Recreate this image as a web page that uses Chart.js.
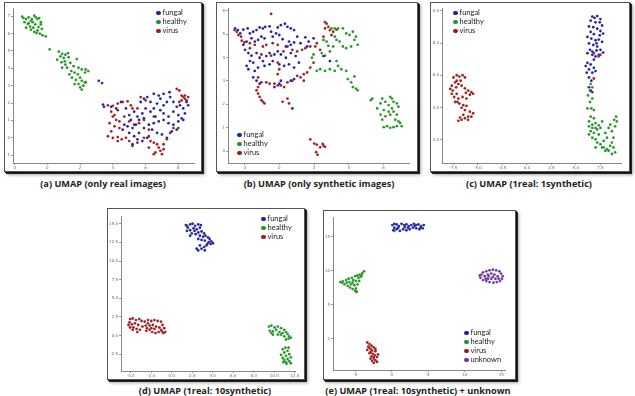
<!DOCTYPE html>
<html><head><meta charset="utf-8">
<script src="https://cdn.jsdelivr.net/npm/chart.js@4/dist/chart.umd.min.js"></script>
<style>
html,body{margin:0;padding:0;background:#fff;}
body{width:635px;height:396px;position:relative;overflow:hidden;font-family:Lato,"Open Sans",sans-serif;}
.frame{position:absolute;box-sizing:border-box;border:1px solid #555;background:#fff;box-shadow:1px 1px 0 #111,2px 2px 0 #222,3px 3px 3px rgba(0,0,0,.35);}
canvas{position:absolute;}
.cap{position:absolute;font-family:"Open Sans",sans-serif;font-weight:bold;font-size:9.2px;color:#222;white-space:nowrap;transform:translateX(-50%);}
.leg{position:absolute;font-family:Lato,sans-serif;font-size:7.5px;color:#222;white-space:nowrap;line-height:9px;}
.leg span.d{display:inline-block;width:4.5px;height:4.5px;border-radius:50%;margin-right:2px;vertical-align:0px;}
</style></head><body>
<div class="frame" style="left:4px;top:2px;width:198px;height:170px"></div>
<div class="frame" style="left:216px;top:2px;width:202px;height:170px"></div>
<div class="frame" style="left:430px;top:2px;width:200px;height:170px"></div>
<div class="frame" style="left:107px;top:208px;width:198px;height:172px"></div>
<div class="frame" style="left:323px;top:210px;width:193px;height:170px"></div>
<canvas id="ca" width="194" height="166" style="left:5px;top:4px"></canvas>
<canvas id="cb" width="196" height="166" style="left:218px;top:4px"></canvas>
<canvas id="cc" width="194" height="166" style="left:432px;top:4px"></canvas>
<canvas id="cd" width="191" height="166" style="left:109px;top:212px"></canvas>
<canvas id="ce" width="185" height="164" style="left:325px;top:213px"></canvas>
<div class="cap" style="left:103px;top:177px">(a) UMAP (only real images)</div>
<div class="cap" style="left:319px;top:177px">(b) UMAP (only synthetic images)</div>
<div class="cap" style="left:529px;top:177px">(c) UMAP (1real: 1synthetic)</div>
<div class="cap" style="left:205px;top:384px">(d) UMAP (1real: 10synthetic)</div>
<div class="cap" style="left:418px;top:384px">(e) UMAP (1real: 10synthetic) + unknown</div>
<div id="legends"></div>
<script>
// ---------- categories / colours ----------
const CATEGORIES = ['fungal','healthy','virus','unknown'];
const COLORS = {fungal:'rgb(32,32,160)', healthy:'rgb(34,150,34)', virus:'rgb(158,28,28)', unknown:'rgb(112,52,160)'};

// ---------- tick labels ----------
const A_X_TICKS=[-2,0,2,4,6,8], A_Y_TICKS=[-1,0,1,2,3,4,5,6,7];
const B_X_TICKS=[-2,0,2,4,6], B_Y_TICKS=[0,1,2,3,4,5,6];
const C_X_TICKS=[-7.5,-5,-2.5,0,2.5,5,7.5], C_Y_TICKS=[2,4,6,8,10];
const D_X_TICKS=[-4,-2,0,2,4,6,8,10,12], D_Y_TICKS=[-2.5,0,2.5,5,7.5,10,12.5,15];
const E_X_TICKS=[-5,0,5,10,15], E_Y_TICKS=[0,5,10,15];

// ---------- (a) only real images ----------
const A_HEALTHY=[[-1.54,6.97],[-1.46,6.89],[-1.3,6.83],[-1.14,6.93],[-1.0,6.74],[-0.8,7.02],[-0.7,6.93],[-0.6,6.83],[-0.5,6.89],[-0.9,6.65],[-1.2,6.55],[-1.06,6.4],[-0.74,6.52],[-0.54,6.37],[-0.4,6.65],[-1.3,6.33],[-1.0,6.22],[-0.8,6.09],[-0.66,6.03],[-0.46,5.99],[-0.3,5.9],[-1.14,6.59],[-0.86,6.33],[-0.6,6.18],[-0.34,6.27],[-1.4,6.65],[-0.94,6.83],[-0.1,5.84],[0.14,5.09],[-0.4,6.52],
[0.7,4.96],[0.9,4.83],[1.1,4.78],[1.26,4.87],[0.8,4.68],[1.0,4.59],[1.3,4.64],[0.6,4.49],[0.86,4.34],[1.1,4.21],[1.4,4.31],[1.6,4.12],[1.8,4.53],[1.9,4.03],[2.1,3.93],[2.34,3.93],[2.5,3.84],[1.2,4.03],[1.46,3.84],[1.66,3.75],[1.86,3.65],[2.0,3.46],[1.74,3.33],[1.5,3.46],[2.1,3.28],[1.9,3.09],[2.0,2.9],[2.1,2.77],[2.2,3.0],[2.34,3.18],[2.3,3.75],[0.9,4.03],[1.34,3.65],[1.66,3.09],[1.06,4.4]];
const A_FUNGAL=[[3.14,3.28],[3.34,3.15],[3.4,1.91],[3.46,1.78],[3.9,1.78],[4.2,1.69],[4.5,2.06],[4.8,1.69],[5.0,1.31],[5.1,1.03],[5.3,1.5],[5.5,1.22],[5.7,2.06],[5.9,2.25],[6.1,2.34],[6.3,2.06],[6.5,1.69],[6.7,1.97],[6.9,2.25],[7.1,1.87],[7.3,2.06],[7.5,2.34],[7.7,2.06],[7.9,1.78],[8.1,1.87],[8.3,1.69],[8.4,1.4],[8.2,1.12],[8.0,1.31],[7.7,1.5],[7.4,1.22],[7.1,1.4],[6.9,1.59],[6.6,1.22],[6.3,1.5],[6.0,1.69],[5.8,1.4],[5.6,1.03],[5.4,0.75],[5.2,0.56],[4.9,0.66],[4.7,0.75],[4.6,0.47],[5.0,0.28],[5.3,0.09],[5.6,0.28],[5.9,0.56],[6.2,0.75],[6.5,0.84],[6.8,0.94],[7.1,1.03],[7.4,0.84],[7.7,0.75],[8.0,0.94],[8.3,1.03],[8.5,2.06],[8.6,1.87],[6.4,0.47],[6.7,0.28],[7.0,0.19],[7.3,0.0],[6.1,0.0],[5.8,-0.19],[5.5,-0.09],[5.2,-0.37],[6.8,2.43],[7.1,2.53],[7.46,2.62],[6.5,2.53],[7.9,0.47],[7.6,0.37],[5.9,1.12]];
const A_VIRUS=[[2.3,3.2],[3.7,1.87],[4.0,1.84],[4.3,1.97],[4.6,2.06],[4.9,2.1],[5.1,1.87],[3.9,1.5],[4.1,1.31],[4.3,1.59],[4.0,1.22],[4.2,1.03],[3.8,0.84],[4.1,0.66],[4.4,0.94],[3.9,0.37],[3.7,0.09],[4.0,0.0],[4.3,0.04],[4.54,-0.09],[4.8,0.0],[5.0,-0.19],[5.2,-0.47],[5.5,-0.28],[5.9,0.0],[6.2,0.09],[6.3,-0.19],[6.5,-0.28],[6.7,-0.37],[6.8,-0.56],[6.9,-0.75],[6.6,-0.84],[6.5,-0.94],[7.0,-0.94],[7.1,-0.37],[7.1,-0.66],[7.3,-0.09],[4.4,0.56],[5.3,0.75],[5.6,0.84],[5.9,1.03],[5.7,2.34],[6.0,2.15],[5.5,1.69],[4.7,1.22],[5.0,0.94],[5.2,1.69],[6.5,1.22],[6.2,0.47],[7.9,2.81],[8.06,2.72],[8.2,2.43],[8.3,2.34],[8.4,2.25],[8.5,2.15],[8.2,2.15],[8.06,2.06],[8.4,2.43],[8.6,2.34],[8.0,0.56],[7.5,0.28],[7.7,0.56],[4.3,-0.19],[6.2,-0.56]];

// ---------- (b) only synthetic images ----------
const B_FUNGAL=[[-2.54,5.24],[-2.38,5.17],[-2.25,5.03],[-2.07,5.19],[-1.82,5.24],[-1.69,5.03],[-1.5,5.1],[-1.31,5.17],[-1.13,5.28],[-0.94,5.24],[-0.81,5.31],[-0.56,5.33],[-0.47,5.1],[-0.09,5.28],[0.09,5.38],[0.32,5.44],[0.47,5.31],[0.66,5.24],[0.85,5.17],[1.03,4.89],[1.5,4.86],[1.69,4.68],[1.6,4.47],[1.22,4.61],[0.85,4.64],[0.56,4.68],[0.66,4.54],[0.38,4.47],[0.19,4.78],[0,4.96],[-0.19,5.03],[-0.38,4.89],[-0.85,4.82],[-1.03,4.89],[-1.22,4.75],[-1.41,4.68],[-1.6,4.82],[-1.88,4.68],[-2.07,4.54],[-1.97,4.33],[-1.78,4.19],[-1.6,4.08],[-1.31,4.19],[-1.13,3.99],[-0.94,3.85],[-0.75,4.06],[-0.56,4.19],[-0.28,4.13],[-0.09,4.26],[0.09,4.13],[0.38,3.99],[0.66,4.19],[0.94,4.06],[1.13,3.78],[0.85,3.57],[0.56,3.71],[0.28,3.64],[0,3.71],[-0.38,3.85],[-0.56,3.71],[-0.85,3.64],[-1.22,3.57],[-1.5,3.78],[-1.69,3.85],[-1.88,3.64],[-1.78,3.5],[-1.41,3.43],[-1.5,3.15],[-1.31,3.01],[-1.13,2.88],[-0.28,2.74],[0,2.88],[0.09,3.01],[0.66,3.01],[0.85,3.08],[0.75,1.83],[1.97,4.82],[2.54,4.06],[2.91,3.85]];
const B_HEALTHY=[[2.54,4.75],[2.72,4.68],[2.44,4.19],[2.63,4.08],[2.82,4.5],[2.91,4.26],[3.0,5.24],[3.19,5.24],[3.38,5.24],[3.66,5.24],[3.85,5.03],[4.04,4.96],[4.23,5.1],[4.41,4.89],[4.32,4.75],[4.51,4.54],[4.13,4.47],[3.85,4.4],[3.66,4.47],[3.47,4.68],[3.29,4.75],[3.19,4.89],[3.1,4.47],[3.29,3.85],[3.38,3.64],[3.57,3.5],[3.19,3.43],[2.91,3.5],[2.63,3.43],[2.35,3.5],[2.16,3.43],[1.97,4.13],[1.88,3.99],[3.94,3.08],[4.13,2.94],[4.23,2.74],[4.41,2.67],[4.51,2.6],[4.32,3.19],[3.85,3.43],[5.35,2.25],[5.26,2.18],[5.63,1.83],[5.82,2.04],[5.92,2.25],[6.1,2.11],[6.38,2.32],[6.48,2.25],[6.57,2.11],[6.76,2.04],[6.85,1.9],[6.29,1.97],[6.01,1.76],[5.82,1.56],[5.92,1.35],[6.1,1.49],[6.38,1.56],[6.57,1.69],[6.76,1.56],[6.85,1.28],[6.95,1.21],[7.04,1.07],[6.76,1.07],[6.57,1.03],[6.38,1.0],[6.2,1.07],[6.01,1.03],[6.67,1.35],[6.48,1.83],[6.29,1.69]];
const B_VIRUS=[[-2.57,5.17],[-2.44,5.1],[-2.35,4.96],[-2.2,4.89],[-2.16,4.72],[-2.01,4.64],[-1.69,4.61],[-1.41,4.54],[-0.94,4.47],[-0.75,4.54],[-0.47,4.08],[-0.38,4.61],[-0.09,4.54],[0.24,4.26],[0.47,4.47],[0.75,4.33],[1.03,4.26],[1.31,4.33],[1.5,4.4],[1.78,4.47],[2.07,4.47],[2.16,4.61],[2.54,4.89],[2.63,5.51],[2.72,5.44],[2.82,5.31],[2.63,5.24],[2.91,5.17],[3.0,4.96],[3.1,5.1],[3.29,5.19],[2.35,4.33],[1.97,3.78],[1.78,3.57],[1.6,3.36],[1.41,3.29],[1.22,3.15],[1.03,3.22],[0.75,3.01],[0.47,2.94],[0.28,2.74],[0.09,2.81],[-0.09,2.81],[-0.28,2.88],[-0.56,2.88],[-0.75,2.94],[-1.03,2.94],[-1.22,2.74],[-1.31,2.6],[-1.22,2.46],[-1.13,2.32],[-1.03,2.18],[-0.94,2.11],[-0.85,2.04],[0.19,2.11],[0.47,2.25],[0.56,2.04],[-0.47,5.86],[-0.09,3.78],[-1.03,4.13],[-1.69,4.4],[-1.22,3.15],[-0.09,3.29],[0,3.5],[1.41,3.01],[1.78,0.51],[2.01,0.33],[2.16,0.28],[2.54,0.24],[2.63,0.19],[2.35,0.17],[2.12,-0.04],[2.2,-0.15],[2.5,0.31]];

// ---------- (c) 1real : 1synthetic ----------
const C_FUNGAL=[[6.67,9.64],[6.9,9.56],[7.17,9.68],[7.5,9.49],[6.5,9.39],[7.0,9.29],[7.43,9.29],[7.67,9.09],[6.33,9.03],[6.77,8.99],[7.17,8.89],[7.5,8.75],[7.77,8.59],[6.5,8.69],[6.83,8.55],[6.17,8.38],[6.57,8.28],[7.0,8.18],[7.33,8.22],[7.67,8.08],[6.33,7.98],[6.77,7.88],[7.17,7.78],[7.5,7.58],[7.77,7.41],[6.43,7.58],[6.17,7.37],[6.67,7.27],[7.0,7.17],[7.33,7.27],[6.83,6.97],[6.17,6.77],[6.0,6.57],[6.5,6.67],[6.83,6.46],[6.33,6.36],[6.67,6.16],[7.0,6.26],[6.1,6.16],[6.33,5.86],[6.57,5.66],[7.1,7.98],[7.43,8.48],[7.1,7.54],[6.67,7.47],[6.33,5.25],[6.5,5.05]];
const C_HEALTHY=[[6.5,5.45],[6.67,5.25],[6.43,5.05],[6.23,4.75],[6.67,4.55],[6.43,4.34],[6.57,3.94],[6.17,3.94],[6.83,3.84],[6.5,3.43],[6.83,3.33],[6.33,3.13],[6.67,2.93],[7.0,3.03],[7.33,2.89],[7.67,3.13],[7.5,2.73],[7.17,2.63],[6.83,2.42],[6.5,2.53],[6.33,2.32],[6.67,2.12],[7.0,2.02],[7.17,1.82],[7.5,1.72],[7.83,1.52],[8.17,1.41],[8.5,1.62],[8.83,1.52],[9.0,1.21],[8.67,1.11],[8.33,1.31],[8.0,1.31],[7.67,1.52],[8.67,1.82],[8.83,2.12],[8.67,2.53],[9.0,2.83],[9.17,3.13],[9.1,3.43],[8.9,3.23],[8.5,2.93],[8.33,2.73],[8.0,2.42],[8.17,2.12],[7.83,1.92],[7.33,2.32],[7.0,2.73],[6.67,2.73],[6.33,2.83],[7.0,1.52]];
const C_VIRUS=[[-7.5,5.86],[-7.17,6.0],[-6.9,5.92],[-6.57,6.0],[-6.33,5.86],[-6.77,5.66],[-7.33,5.56],[-7.67,5.35],[-7.83,5.15],[-7.57,5.05],[-7.23,5.25],[-7.0,5.45],[-6.67,5.35],[-6.33,5.19],[-6.0,5.05],[-5.67,4.95],[-5.5,4.85],[-5.83,4.79],[-6.23,4.91],[-7.17,4.85],[-7.43,4.65],[-7.0,4.55],[-7.33,4.34],[-6.9,4.24],[-6.5,4.14],[-6.17,4.1],[-6.67,3.98],[-6.33,3.84],[-5.83,3.74],[-5.5,3.64],[-5.67,3.43],[-6.0,3.43],[-6.5,3.54],[-6.83,3.37],[-7.0,3.17],[-6.67,3.23],[-6.33,3.33],[-6.0,3.23],[-7.1,4.34],[-6.17,4.55],[-6.57,4.65],[-7.67,4.85],[-7.17,5.66],[7.5,7.27],[7.33,7.17],[6.83,7.37],[6.83,5.8],[6.67,4.95]];

// ---------- (d) 1real : 10synthetic ----------
const D_FUNGAL=[[1.39,14.83],[1.58,14.48],[1.8,14.91],[2.03,15.0],[2.28,14.7],[2.59,14.91],[2.85,14.83],[1.49,14.04],[1.8,14.13],[2.12,14.39],[2.44,14.26],[2.75,14.48],[1.96,13.7],[2.34,13.61],[2.59,13.83],[2.91,13.96],[3.16,13.7],[2.75,13.39],[3.07,13.26],[3.29,13.39],[3.54,13.17],[3.7,12.96],[3.86,12.65],[4.02,12.39],[3.61,12.52],[3.23,12.74],[2.91,12.83],[2.59,12.96],[3.39,12.09],[3.16,11.87],[2.91,11.65],[2.59,11.43],[2.44,11.65],[2.75,12.09],[3.23,11.43],[3.48,12.3],[3.8,12.3],[1.8,13.39],[2.22,14.04],[1.49,14.7]];
const D_HEALTHY=[[9.49,1.22],[9.72,1.35],[10.03,1.09],[10.35,1.22],[10.66,1.0],[10.98,0.78],[11.14,0.48],[9.56,0.65],[9.87,0.57],[10.19,0.78],[10.51,0.48],[10.82,0.35],[11.3,0.22],[11.46,-0.09],[11.39,-0.39],[10.98,-0.09],[10.66,0.13],[10.35,0.13],[9.87,0.13],[9.72,0.35],[11.61,-0.3],[11.14,-0.52],[10.82,-1.83],[11.08,-1.61],[11.3,-2.04],[10.98,-2.26],[10.66,-2.57],[11.14,-2.7],[11.46,-2.48],[11.61,-2.91],[11.3,-3.13],[10.98,-3.26],[10.82,-3.0],[11.14,-3.57],[11.46,-3.43],[11.61,-3.7],[11.2,-3.78],[10.89,-3.57],[11.39,-1.61]];
const D_VIRUS=[[-4.05,2.22],[-3.8,2.3],[-3.48,2.09],[-3.16,2.22],[-2.94,1.96],[-4.11,1.78],[-3.89,1.52],[-3.58,1.65],[-3.26,1.43],[-3.73,1.09],[-4.05,1.09],[-4.21,1.43],[-3.42,0.91],[-3.1,0.78],[-2.85,1.22],[-2.63,1.87],[-2.31,2.09],[-1.99,1.96],[-1.68,2.09],[-1.36,1.96],[-1.04,1.87],[-0.89,1.43],[-0.73,1.0],[-0.63,0.48],[-0.95,0.57],[-1.27,0.48],[-1.58,0.35],[-1.9,0.48],[-2.15,0.78],[-2.41,1.0],[-2.53,1.35],[-2.15,1.35],[-1.84,1.43],[-1.52,1.22],[-1.2,1.09],[-1.04,0.78],[-1.68,0.91],[-1.99,1.0],[-2.31,1.65],[-0.82,0.35],[-2.47,0.65],[-3.8,0.78],[-3.35,0.48]];

// ---------- (e) 1real : 10synthetic + unknown ----------
const E_FUNGAL=[[0.09,16.71],[0.36,16.9],[0.67,16.81],[0.98,16.57],[1.34,16.9],[1.7,16.71],[2.01,16.81],[2.32,16.57],[2.68,16.71],[3.04,16.9],[3.35,16.71],[3.66,16.81],[4.02,16.57],[4.38,16.71],[4.24,16.24],[3.79,16.1],[3.35,16.24],[2.9,16.33],[2.46,16.1],[2.01,15.95],[1.56,16.1],[1.12,15.86],[0.67,16.1],[0.36,16.33],[0.22,15.95],[2.23,16.33],[3.13,16.57],[1.79,16.43],[0.89,16.33],[3.93,16.33]];
const E_HEALTHY=[[0.36,15.86],[-7.05,8.33],[-6.7,8.43],[-6.25,8.62],[-5.89,8.81],[-5.45,8.95],[-5.0,9.19],[-4.69,9.29],[-4.38,9.43],[-4.02,9.67],[-3.79,9.9],[-6.47,8.0],[-6.03,7.76],[-5.71,7.52],[-5.36,7.29],[-5.0,7.05],[-4.91,7.38],[-5.13,7.86],[-5.36,8.24],[-4.91,8.48],[-4.55,8.95],[-4.24,9.1],[-4.69,8.0],[-4.46,8.48],[-5.58,8.0],[-6.16,8.24],[-5.8,8.33],[-4.11,9.29],[-6.79,8.24],[-5.27,8.62]];
const E_VIRUS=[[-4.82,6.9],[-3.35,-0.57],[-3.04,-0.81],[-3.21,-1.19],[-2.77,-1.05],[-2.46,-1.29],[-2.9,-1.52],[-3.35,-1.67],[-2.68,-1.76],[-2.23,-1.86],[-2.59,-2.24],[-3.04,-2.14],[-2.77,-2.62],[-2.32,-2.48],[-2.01,-2.71],[-2.46,-2.95],[-2.9,-2.95],[-2.68,-3.29],[-2.23,-3.19],[-2.46,-3.57],[-2.01,-3.43],[-3.13,-1.29],[-2.23,-1.52],[-2.9,-2.0],[-2.46,-2.71],[-1.88,-2.33]];
const E_UNKNOWN=[[12.28,9.43],[12.5,9.76],[12.95,9.9],[13.39,10.05],[13.84,10.14],[14.29,10.05],[14.73,9.9],[14.96,9.57],[15.18,9.19],[15.09,8.81],[14.82,8.48],[14.38,8.33],[13.93,8.24],[13.39,8.33],[12.95,8.48],[12.5,8.62],[12.14,8.95],[12.05,9.29],[12.72,9.19],[13.17,9.43],[13.62,9.57],[14.06,9.43],[14.51,9.19],[14.2,8.81],[13.62,8.81],[13.17,8.81],[13.84,9.1],[14.64,8.81],[12.86,8.81],[13.26,9.19]];

// ---------- build ----------
function ds(name, pts){
  return {label:name, data:pts.map(p=>({x:p[0],y:p[1]})), backgroundColor:COLORS[name], borderColor:'rgba(255,255,255,0.35)', borderWidth:0.3, pointRadius:1.4};
}
function axis(ticks, min, max, size, isX, dec){
  return {
    type:'linear', min, max,
    afterBuildTicks: s => { s.ticks = ticks.map(v=>({value:v})); },
    afterFit: s => { if(isX){ s.height=size; } else { s.width=size; } s.paddingLeft=0; s.paddingRight=0; s.paddingTop=0; s.paddingBottom=0; },
    ticks:{font:{size:4,family:'DejaVu Sans'}, color:'#666', padding:1, maxRotation:0, autoSkip:false, callback:v=>dec?Number(v).toFixed(1):String(v)},
    grid:{display:true, drawOnChartArea:false, drawTicks:true, tickLength:2, color:'#999'},
    border:{display:true, color:'#888', width:1}
  };
}
function make(id, sets, xt, xmin, xmax, yt, ymin, ymax, yw, xh, dec){
  new Chart(document.getElementById(id), {
    type:'scatter',
    data:{datasets:sets},
    options:{
      responsive:false, animation:false, devicePixelRatio:1,
      layout:{padding:0},
      plugins:{legend:{display:false}, tooltip:{enabled:false}},
      scales:{ x:axis(xt,xmin,xmax,xh,true,dec), y:axis(yt,ymin,ymax,yw,false,dec) }
    }
  });
}
make('ca',[ds('fungal',A_FUNGAL),ds('healthy',A_HEALTHY),ds('virus',A_VIRUS)],A_X_TICKS,-2.1,9.0,A_Y_TICKS,-1.45,7.45,8,7,false);
make('cb',[ds('fungal',B_FUNGAL),ds('healthy',B_HEALTHY),ds('virus',B_VIRUS)],B_X_TICKS,-2.95,7.5,B_Y_TICKS,-0.5,6.1,10,7,false);
make('cc',[ds('fungal',C_FUNGAL),ds('healthy',C_HEALTHY),ds('virus',C_VIRUS)],C_X_TICKS,-8.67,9.67,C_Y_TICKS,0.55,10.16,10,7,true);
make('cd',[ds('fungal',D_FUNGAL),ds('healthy',D_HEALTHY),ds('virus',D_VIRUS)],D_X_TICKS,-4.94,12.09,D_Y_TICKS,-4.74,16.0,12,7,true);
make('ce',[ds('fungal',E_FUNGAL),ds('healthy',E_HEALTHY),ds('virus',E_VIRUS),ds('unknown',E_UNKNOWN)],E_X_TICKS,-8.04,15.6,E_Y_TICKS,-4.62,17.86,8,7,false);

// ---------- HTML legends ----------
const LEGENDS=[
  {left:156, top:8, items:['fungal','healthy','virus']},
  {left:237, top:130, items:['fungal','healthy','virus']},
  {left:453, top:8, items:['fungal','healthy','virus']},
  {left:261, top:214, items:['fungal','healthy','virus']},
  {left:464, top:328, items:['fungal','healthy','virus','unknown']}
];
const L=document.getElementById('legends');
LEGENDS.forEach(g=>{
  const d=document.createElement('div'); d.className='leg'; d.style.left=g.left+'px'; d.style.top=g.top+'px';
  d.innerHTML=g.items.map(n=>'<div><span class="d" style="background:'+COLORS[n]+'"></span>'+n+'</div>').join('');
  L.appendChild(d);
});
</script>
</body></html>
